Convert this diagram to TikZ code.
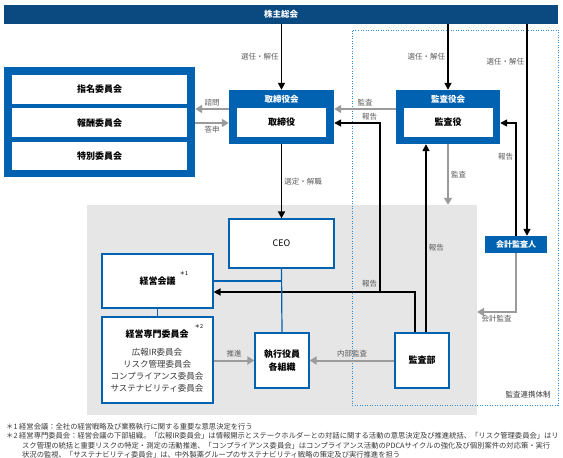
\documentclass[tikz,border=0pt]{standalone}
\usepackage{fontspec}
\setmainfont{Noto Sans CJK JP}
\usepackage{tikz}
\usetikzlibrary{arrows.meta, positioning, calc}
\definecolor{navy}{RGB}{10,74,128}
\definecolor{boxblue}{RGB}{0,98,176}
\definecolor{dotblue}{RGB}{50,140,215}
\definecolor{arrowgray}{RGB}{155,155,155}
\definecolor{bggray}{RGB}{230,230,230}
\definecolor{labelgray}{RGB}{90,90,90}
\definecolor{textgray}{RGB}{55,55,55}

\begin{document}
\begin{tikzpicture}[x=1pt, y=-1pt, -{Triangle[length=7pt, width=7pt]}, node distance=4pt and 4pt, auto,
    topbar/.style={fill=navy, text=white, inner sep=0pt, font=\fontsize{8.5}{10}\selectfont\bfseries},
    cmtframe/.style={fill=boxblue, inner sep=0pt},
    boxhead/.style={text=white, inner sep=0pt, font=\fontsize{8.5}{10}\selectfont\bfseries},
    inbox/.style={fill=white, inner sep=0pt, font=\fontsize{9}{11}\selectfont\bfseries},
    orgbox/.style={draw=boxblue, line width=1.2pt, fill=white, inner sep=0pt, align=center, font=\fontsize{9}{13}\selectfont\bfseries},
    blk/.style={line width=1.6pt},
    gry/.style={line width=2pt, arrowgray, -{Triangle[length=7pt, width=8pt]}},
    lnk/.style={-, line width=1.2pt, boxblue},
    lbl/.style={text=labelgray, inner sep=2pt, font=\fontsize{7.5}{9}\selectfont},
    fnote/.style={anchor=base west, inner sep=0pt, text=textgray, font=\fontsize{7.3}{9}\selectfont}]
    \useasboundingbox (0,0) rectangle (563,458);
    \node[fill=bggray, inner sep=0pt, minimum width=390pt, minimum height=210pt] (execbg) at (282,310) {};
    \node[draw=dotblue, line width=1pt, dash pattern=on 1pt off 1.5pt, inner sep=0pt, minimum width=206pt, minimum height=375pt] (zone) at (455,217.5) {};
    \node[lbl, text=textgray] (zonelbl) at (528,395) {監査連携体制};

    \node[topbar, minimum width=554pt, minimum height=19pt] (gm) at (281,14.5) {株主総会};

    \node[cmtframe, minimum width=191pt, minimum height=110pt] (cmte) at (99.5,122) {};
    \node[inbox, minimum width=175pt, minimum height=29pt] (nom) at (99.5,89.5) {指名委員会};
    \node[inbox, minimum width=175pt, minimum height=29pt, below=4pt of nom] (rem) {報酬委員会};
    \node[inbox, minimum width=175pt, minimum height=28pt, below=4pt of rem] (spc) {特別委員会};

    \node[cmtframe, minimum width=105pt, minimum height=54pt] (board) at (281.5,117) {};
    \node[boxhead] (boardhd) at (281.5,99) {取締役会};
    \node[inbox, minimum width=89pt, minimum height=29pt] (dir) at (281.5,122.5) {取締役};

    \node[cmtframe, minimum width=104pt, minimum height=54pt] (kansa) at (448,117) {};
    \node[boxhead] (kansahd) at (448,99) {監査役会};
    \node[inbox, minimum width=89pt, minimum height=29pt] (auditor) at (448,122.5) {監査役};

    \node[orgbox, minimum width=105pt, minimum height=49pt, font=\fontsize{9}{11}\selectfont] (ceo) at (281.5,243.5) {CEO};
    \node[orgbox, minimum width=111pt, minimum height=54pt] (mgmt) at (157.5,281) {経営会議};
    \node[orgbox, minimum width=111pt, minimum height=86pt] (mspec) at (157.5,360) {};
    \node[inner sep=0pt, font=\fontsize{9}{11}\selectfont\bfseries] (mspechd) at (157,334) {経営専門委員会};
    \node[inner sep=0pt, align=center, text=textgray, font=\fontsize{8.5}{12}\selectfont] (mlist) at (157,370) {広報IR委員会\\リスク管理委員会\\コンプライアンス委員会\\サステナビリティ委員会};
    \node[inner sep=0pt, font=\fontsize{5.5}{6}\selectfont] (mark1) at (184,273) {＊1};
    \node[inner sep=0pt, font=\fontsize{5.5}{6}\selectfont] (mark2) at (199,326) {＊2};
    \node[orgbox, minimum width=54pt, minimum height=55pt] (exec) at (282,360.5) {執行役員\\各組織};
    \node[orgbox, minimum width=54pt, minimum height=55pt] (iad) at (422,360.5) {監査部};
    \node[cmtframe, minimum width=62pt, minimum height=17pt, text=white, font=\fontsize{8}{10}\selectfont\bfseries] (acct) at (516,244.5) {会計監査人};

    \coordinate (acctR) at ($(acct.north)+(11,0)$);
    \coordinate (iadL) at ($(iad.north)+(-7,0)$);
    \coordinate (iadR) at ($(iad.north)+(4,0)$);
    \coordinate (mgmtin) at ($(mgmt.east)+(0,11)$);
    \coordinate (junc) at (380,292);
    \coordinate (boardin) at ($(board.east)+(0,6)$);
    \coordinate (kansain) at ($(kansa.east)+(0,6)$);
    \coordinate (ask) at ($(board.west)+(0,-8)$);
    \coordinate (reply) at ($(board.west)+(0,6)$);
    \coordinate (audl) at ($(kansa.west)+(0,-8)$);
    \coordinate (acctout) at (477,312);

    \draw[blk] (gm.south -| board.north) -- node[lbl, left] {選任・解任} (board.north);
    \draw[blk] (gm.south -| kansa.north) -- node[lbl, left] {選任・解任} (kansa.north);
    \draw[blk] (gm.south -| acctR) -- node[lbl, pos=0.175, left] {選任・解任} (acctR);
    \draw[blk] (board.south) -- node[lbl, right] {選定・解職} (ceo.north);
    \draw[blk] (iadL) |- (mgmtin);
    \draw[blk] (junc) |- node[lbl, pos=0.024, left] {報告} node[lbl, pos=0.5, above left] {報告} (boardin);
    \draw[blk] (iadR) -- node[lbl, pos=0.45, right] {報告} (iadR |- kansa.south);
    \draw[blk] (acct.north) |- node[lbl, pos=0.35, left] {報告} (kansain);

    \draw[gry] (ask) -- node[lbl, above] {諮問} (ask -| cmte.east);
    \draw[gry] (reply -| cmte.east) -- node[lbl, below] {答申} (reply);
    \draw[gry] (audl) -- node[lbl, above] {監査} (audl -| board.east);
    \draw[gry] (kansa.south) -- node[lbl, right] {監査} (kansa.south |- execbg.north);
    \draw[gry] (acct.south) |- node[lbl, pos=0.75, below] {会計監査} (acctout);
    \draw[gry] (iad.west) -- node[lbl, above] {内部監査} (exec.east);
    \draw[gry] (mspec.east |- exec.west) -- node[lbl, above] {推進} (exec.west);

    \draw[lnk] (ceo.south) -- (exec.north);
    \draw[lnk] (mgmt.east) -- (mgmt.east -| ceo.south);
    \draw[lnk] (mgmt.south) -- (mspec.north);

    \node[fnote] (fn1) at (6,429) {＊1 経営会議：全社の経営戦略及び業務執行に関する重要な意思決定を行う};
    \node[fnote] (fn2) at (6,438.5) {＊2 経営専門委員会：経営会議の下部組織。「広報IR委員会」は情報開示とステークホルダーとの対話に関する活動の意思決定及び推進統括、「リスク管理委員会」はリ};
    \node[fnote] (fn3) at (22,448) {スク管理の統括と重要リスクの特定・測定の活動推進、「コンプライアンス委員会」はコンプライアンス活動のPDCAサイクルの強化及び個別案件の対応策・実行};
    \node[fnote] (fn4) at (22,457) {状況の監視、「サステナビリティ委員会」は、中外製薬グループのサステナビリティ戦略の策定及び実行推進を担う};
\end{tikzpicture}
\end{document}
